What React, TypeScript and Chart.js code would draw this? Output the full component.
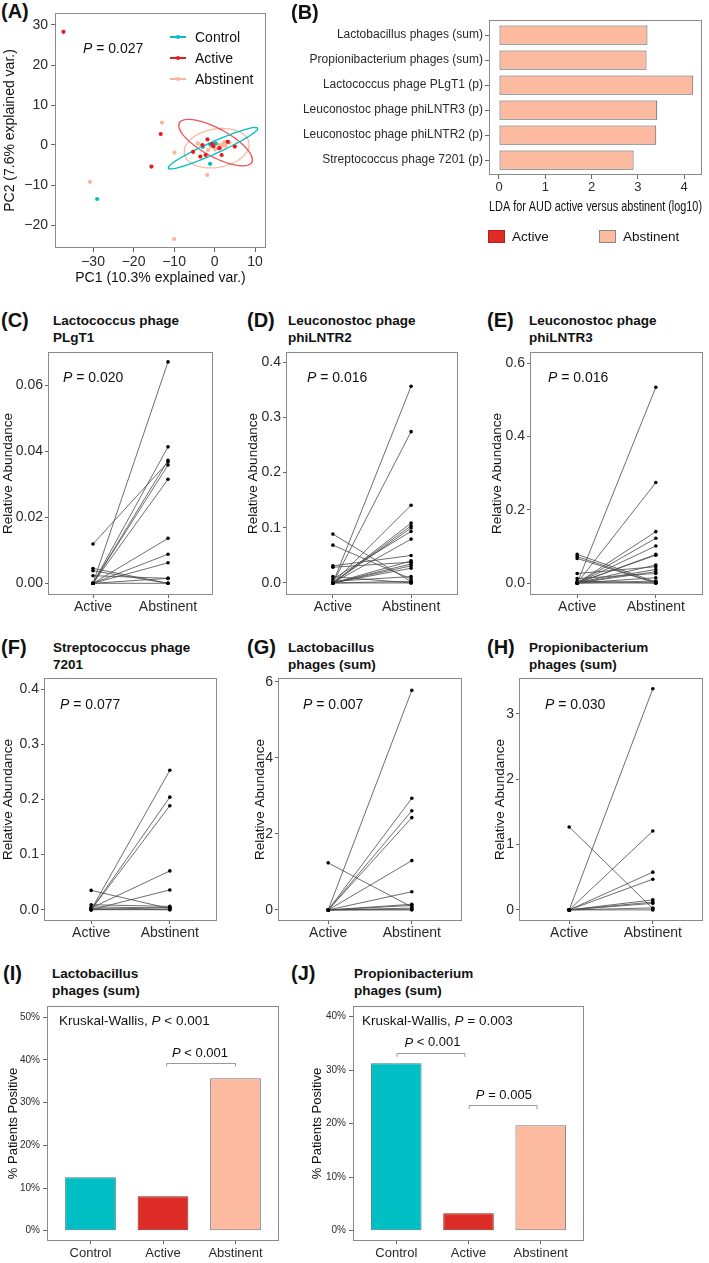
import React, { useEffect, useRef } from 'react';
import { Chart, registerables } from 'chart.js';
Chart.register(...registerables);

const FONT = "'Liberation Sans', Arial, Helvetica, sans-serif";
Chart.defaults.font.family = FONT;

// ---------- Colours ----------
const CONTROL_COLOR = '#00BFC4';
const ACTIVE_COLOR = '#DE2D26';
const ABSTINENT_COLOR = '#FCBBA1';

// ---------- (A) PCA ----------
const controlPC1 = [-29, -1.1, -1.1, -2.9, 3.3, 0.25];
const controlPC2 = [-13.5, -4.7, 0.2, -0.5, 0.8, 0.4];
const activePC1 = [-37.3, -13.3, -15.6, -5.3, -3.5, -2.2, -1.75, -3, -0.6, 1.75, 1.2, 5, 3.25, -0.3];
const activePC2 = [28.3, 2.75, -5.4, -1.7, -2.9, -2.5, 1.4, 0, 0.25, -2.5, -0.8, -0.4, 0.8, -0.3];
const abstinentPC1 = [-30.75, -13, -9.9, -1.8, -10, -4.1, -3.25, 0.5, 1.3, 2.2, 2.75, 1.75, 0.9, -1.6, -0.9, 0.1, 2.6, 3.7];
const abstinentPC2 = [-9.2, 5.6, -1.9, -7.5, -23.5, 0.4, -0.25, 0.25, 0, 0.4, -0.2, -0.4, -0.8, -1.25, -0.4, -1.1, 0.8, 0.6];
// ellipse parameters (centre, semi-axes, rotation in degrees)
const ellipseGroups = ['Control', 'Active', 'Abstinent'];
const ellipseCX = [-0.4, 0.25, 0.5];
const ellipseCY = [-0.8, 0.6, -0.8];
const ellipseA = [12.1, 10.2, 8.1];
const ellipseB = [1.5, 3.5, 4.8];
const ellipseAngle = [24.4, -28.9, 10];
const pcaXTicks = [-30, -20, -10, 0, 10];
const pcaYTicks = [-20, -10, 0, 10, 20, 30];

// ---------- (B) LDA ----------
const ldaLabels = [
  'Lactobacillus phages (sum)',
  'Propionibacterium phages (sum)',
  'Lactococcus phage PLgT1 (p)',
  'Leuconostoc phage phiLNTR3 (p)',
  'Leuconostoc phage phiLNTR2 (p)',
  'Streptococcus phage 7201 (p)',
];
const ldaValues = [3.21, 3.19, 4.2, 3.42, 3.4, 2.91];
const ldaTicks = [0, 1, 2, 3, 4];

// ---------- (C)-(H) paired ----------
const pairedGroups = ['Active', 'Abstinent'];
const plgt1Active = [0, 0, 0.0119, 0, 0, 0, 0, 0, 0, 0.0045, 0.0038, 0.0023, 0, 0];
const plgt1Abstinent = [0.067, 0.0413, 0.0367, 0.0372, 0.0358, 0.0315, 0.0136, 0.0088, 0.0062, 0, 0, 0.0015, 0.0015, 0];
const lntr2Active = [0, 0, 0, 0, 0, 0, 0.0073, 0, 0.031, 0, 0.0285, 0, 0, 0, 0.0885, 0.0685, 0.0115, 0.003, 0, 0];
const lntr2Abstinent = [0.356, 0.274, 0.1406, 0.1085, 0.1036, 0.0994, 0.0933, 0.0794, 0.0497, 0.04, 0.0376, 0.0345, 0.031, 0.0267, 0.0024, 0.0073, 0, 0.0115, 0, 0.003];
const lntr3Active = [0, 0, 0, 0, 0, 0, 0, 0, 0.026, 0, 0, 0.012, 0, 0.078, 0.072, 0.067, 0.0055, 0, 0];
const lntr3Abstinent = [0.534, 0.274, 0.14, 0.122, 0.101, 0.078, 0.076, 0.049, 0.0445, 0.037, 0.031, 0.026, 0.0145, 0.003, 0, 0, 0, 0.0055, 0];
const strepActive = [0, 0, 0, 0.003, 0, 0.035, 0.009, 0.005, 0.002, 0, 0];
const strepAbstinent = [0.2527, 0.204, 0.1885, 0.0703, 0.0358, 0.002, 0.006, 0.003, 0, 0, 0.004];
const lactoActive = [0, 0, 0, 0, 0, 0, 1.24, 0, 0, 0, 0, 0];
const lactoAbstinent = [5.78, 2.94, 2.61, 2.43, 1.3, 0.48, 0.08, 0.15, 0.12, 0.05, 0.02, 0];
const propiActive = [0, 1.27, 0, 0, 0, 0, 0, 0, 0, 0];
const propiAbstinent = [3.386, 0.02, 1.207, 0.578, 0.47, 0.153, 0.12, 0.1, 0.03, 0];

// ---------- (I)-(J) % positive ----------
const cohortLabels = ['Control', 'Active', 'Abstinent'];
const lactoPositive = [12.5, 8.1, 35.7];
const propiPositive = [31.3, 3.25, 19.7];
const pctTicksI = [0, 10, 20, 30, 40, 50];
const pctTicksJ = [0, 10, 20, 30, 40];

// ---------- helpers ----------
type Part = { t: string; i?: boolean };

function drawRich(ctx: CanvasRenderingContext2D, parts: Part[], cx: number, cy: number, size: number) {
  const fontOf = (p: Part) => `${p.i ? 'italic ' : ''}${size}px ${FONT}`;
  let total = 0;
  const widths = parts.map((p) => {
    ctx.font = fontOf(p);
    const w = ctx.measureText(p.t).width;
    total += w;
    return w;
  });
  let x = cx - total / 2;
  ctx.textBaseline = 'middle';
  ctx.textAlign = 'left';
  ctx.fillStyle = '#111';
  parts.forEach((p, k) => {
    ctx.font = fontOf(p);
    ctx.fillText(p.t, x, cy);
    x += widths[k];
  });
}

const boxPlugin = {
  id: 'panelBox',
  afterDatasetsDraw(chart: any) {
    const { ctx, chartArea: a } = chart;
    ctx.save();
    ctx.strokeStyle = '#8a8a8a';
    ctx.lineWidth = 1;
    ctx.strokeRect(Math.round(a.left) + 0.5, Math.round(a.top) + 0.5, Math.round(a.right - a.left) - 1, Math.round(a.bottom - a.top) - 1);
    ctx.restore();
  },
};

const bracketPlugin = {
  id: 'brackets',
  afterDatasetsDraw(chart: any, _args: any, opts: any) {
    const items = (opts && opts.items) || [];
    const { ctx } = chart;
    const xs = chart.scales.x;
    const ys = chart.scales.y;
    ctx.save();
    for (const b of items) {
      const x1 = xs.getPixelForValue(b.x1);
      const x2 = xs.getPixelForValue(b.x2);
      const yt = Math.round(ys.getPixelForValue(b.y)) + 0.5;
      const yb = ys.getPixelForValue(b.y - b.leg);
      ctx.strokeStyle = '#9a9a9a';
      ctx.lineWidth = 1;
      ctx.beginPath();
      ctx.moveTo(x1, yb);
      ctx.lineTo(x1, yt);
      ctx.lineTo(x2, yt);
      ctx.lineTo(x2, yb);
      ctx.stroke();
      drawRich(ctx, b.parts, xs.getPixelForValue(b.lx), ys.getPixelForValue(b.ly), 13);
    }
    ctx.restore();
  },
};

function linAxis(o: any) {
  const horizontal = o.position === 'bottom';
  return {
    type: 'linear',
    position: o.position,
    min: o.min,
    max: o.max,
    offset: false,
    reverse: !!o.reverse,
    afterBuildTicks: (s: any) => {
      s.ticks = o.ticks.map((v: number) => ({ value: v }));
    },
    afterFit: (s: any) => {
      if (horizontal) s.height = o.size;
      else s.width = o.size;
      s.paddingTop = 0;
      s.paddingBottom = 0;
      s.paddingLeft = 0;
      s.paddingRight = 0;
    },
    ticks: {
      callback: o.fmt,
      font: { size: o.fontSize, family: FONT },
      color: '#2a2a2a',
      padding: o.pad,
      autoSkip: false,
      maxRotation: 0,
      minRotation: 0,
    },
    grid: { offset: false, drawOnChartArea: false, drawTicks: true, tickLength: o.tickLen, color: '#666', lineWidth: 1 },
    border: { display: false },
    title: o.title
      ? {
          display: true,
          text: o.title,
          align: o.titleAlign || 'center',
          font: { size: o.titleSize, family: FONT },
          color: '#111',
          padding: horizontal ? { top: 0, bottom: o.titlePad || 0 } : { top: o.titlePad || 0, bottom: 0 },
        }
      : { display: false },
  };
}

function baseOptions(padTop: number, padRight: number) {
  return {
    animation: false,
    responsive: false,
    devicePixelRatio: 1,
    events: [],
    layout: { padding: { top: padTop, right: padRight, left: 0, bottom: 0 } },
    plugins: { legend: { display: false }, tooltip: { enabled: false } },
  };
}

function ellipsePoints(k: number) {
  const pts: { x: number; y: number }[] = [];
  const phi = (ellipseAngle[k] * Math.PI) / 180;
  for (let i = 0; i <= 90; i++) {
    const t = (i / 90) * Math.PI * 2;
    const px = ellipseA[k] * Math.cos(t);
    const py = ellipseB[k] * Math.sin(t);
    pts.push({ x: ellipseCX[k] + px * Math.cos(phi) - py * Math.sin(phi), y: ellipseCY[k] + px * Math.sin(phi) + py * Math.cos(phi) });
  }
  return pts;
}

const minusFmt = (v: number) => (v < 0 ? '\u2212' + Math.abs(v) : String(v));

function buildPCA() {
  const zip = (xs: number[], ys: number[]) => xs.map((x, i) => ({ x, y: ys[i] }));
  const pointDs = (data: any, color: string) => ({
    data,
    showLine: false,
    pointRadius: 2.1,
    pointBackgroundColor: color,
    pointBorderWidth: 0,
    borderColor: color,
  });
  const ellColors = [CONTROL_COLOR, 'rgba(226,60,60,0.85)', 'rgba(250,180,150,0.9)'];
  const ellDs = ellipseGroups.map((_, k) => ({
    data: ellipsePoints(k),
    showLine: true,
    pointRadius: 0,
    borderColor: ellColors[k],
    borderWidth: 1.3,
    tension: 0,
  }));
  return {
    type: 'scatter',
    data: {
      datasets: [
        pointDs(zip(activePC1, activePC2), '#E41A1C'),
        pointDs(zip(controlPC1, controlPC2), CONTROL_COLOR),
        pointDs(zip(abstinentPC1, abstinentPC2), '#F9B49A'),
        ...ellDs,
      ],
    },
    options: {
      ...baseOptions(12, 4),
      scales: {
        x: linAxis({ position: 'bottom', min: -39.4, max: 12.7, ticks: pcaXTicks, fmt: minusFmt, size: 39, fontSize: 14, tickLen: 4, pad: 2, title: 'PC1 (10.3% explained var.)', titleSize: 14 }),
        y: linAxis({ position: 'left', min: -25.75, max: 33, ticks: pcaYTicks, fmt: minusFmt, size: 55, fontSize: 14, tickLen: 4, pad: 3, title: 'PC2 (7.6% explained var.)', titleSize: 14, titlePad: 1.6 }),
      },
    },
    plugins: [boxPlugin],
  };
}

function buildLDA() {
  return {
    type: 'bar',
    data: {
      datasets: [
        {
          data: ldaValues.map((v, i) => ({ x: v, y: i + 1 })),
          backgroundColor: ABSTINENT_COLOR,
          borderColor: '#5a5a5a',
          borderWidth: 1,
          borderSkipped: false,
          barPercentage: 0.77,
          categoryPercentage: 1,
        },
      ],
    },
    options: {
      ...baseOptions(12, 4),
      indexAxis: 'y',
      scales: {
        x: linAxis({ position: 'bottom', min: -0.216, max: 4.389, ticks: ldaTicks, fmt: (v: number) => String(v), size: 41, fontSize: 13, tickLen: 4, pad: 1, title: 'LDA for AUD active versus abstinent (log10)', titleSize: 14, titleAlign: 'end' }),
        y: linAxis({ position: 'left', min: 0.4, max: 6.6, reverse: true, ticks: [1, 2, 3, 4, 5, 6], fmt: (v: number) => ldaLabels[v - 1], size: 189, fontSize: 12, tickLen: 4, pad: 2 }),
      },
    },
    plugins: [boxPlugin],
  };
}

function buildPaired(act: number[], abs: number[], p: any) {
  const datasets = act.map((a, i) => ({
    data: [
      { x: 1, y: a },
      { x: 2, y: abs[i] },
    ],
    showLine: true,
    borderColor: 'rgba(75,75,75,0.9)',
    borderWidth: 0.9,
    pointRadius: 1.8,
    pointBackgroundColor: '#000',
    pointBorderWidth: 0,
    tension: 0,
  }));
  return {
    type: 'scatter',
    data: { datasets },
    options: {
      ...baseOptions(12, 4),
      scales: {
        x: linAxis({ position: 'bottom', min: 0.4, max: 2.6, ticks: [1, 2], fmt: (v: number) => pairedGroups[v - 1], size: 24, fontSize: 14, tickLen: 3, pad: 1 }),
        y: linAxis({ position: 'left', min: p.min, max: p.max, ticks: p.ticks, fmt: (v: number) => v.toFixed(p.dec), size: p.yW, fontSize: 14, tickLen: 3, pad: 2, title: 'Relative Abundance', titleSize: 13.5, titlePad: p.titlePad }),
      },
    },
    plugins: [boxPlugin],
  };
}

function buildPct(values: number[], p: any) {
  return {
    type: 'bar',
    data: {
      datasets: [
        {
          data: values.map((v, i) => ({ x: i + 1, y: v })),
          backgroundColor: [CONTROL_COLOR, ACTIVE_COLOR, ABSTINENT_COLOR],
          borderColor: ['#3f7f80', '#7a2a26', '#7a7a7a'],
          borderWidth: 1,
          borderSkipped: false,
          barPercentage: 0.7,
          categoryPercentage: 1,
        },
      ],
    },
    options: {
      ...baseOptions(12, 4),
      scales: {
        x: linAxis({ position: 'bottom', min: 0.4, max: 3.6, ticks: [1, 2, 3], fmt: (v: number) => cohortLabels[v - 1], size: 22, fontSize: 13, tickLen: 3, pad: 2 }),
        y: linAxis({ position: 'left', min: p.min, max: p.max, ticks: p.ticks, fmt: (v: number) => v + '%', size: p.yW, fontSize: 10, tickLen: 4, pad: 3, title: '% Patients Positive', titleSize: 13, titlePad: 5.2 }),
      },
      plugins: {
        legend: { display: false },
        tooltip: { enabled: false },
        brackets: { items: p.brackets },
      },
    },
    plugins: [boxPlugin, bracketPlugin],
  };
}

// ---------- components ----------
type Rect = { x: number; y: number; w: number; h: number };

function ChartCanvas({ rect, build }: { rect: Rect; build: () => any }) {
  const ref = useRef<HTMLCanvasElement>(null);
  useEffect(() => {
    const chart = new Chart(ref.current as HTMLCanvasElement, build());
    return () => chart.destroy();
  }, []);
  return (
    <canvas
      ref={ref}
      width={rect.w}
      height={rect.h}
      style={{ position: 'absolute', left: rect.x, top: rect.y, width: rect.w, height: rect.h }}
    />
  );
}

function Txt({ x, y, size = 14, bold = false, align = 'left', color = '#111', children }: any) {
  const lh = Math.round(size * 1.2);
  return (
    <div
      style={{
        position: 'absolute',
        left: x,
        top: y - lh / 2,
        fontSize: size,
        lineHeight: lh + 'px',
        fontWeight: bold ? 700 : 400,
        fontFamily: FONT,
        whiteSpace: 'nowrap',
        color,
        transform: align === 'center' ? 'translateX(-50%)' : undefined,
      }}
    >
      {children}
    </div>
  );
}

function PText({ x, y, op, val, size = 14 }: any) {
  return (
    <Txt x={x} y={y} size={size}>
      <i>P</i> {op} {val}
    </Txt>
  );
}

function PanelHead({ letter, lx, ly, tx, lines }: any) {
  return (
    <>
      <Txt x={lx} y={ly} size={20} bold>
        {letter}
      </Txt>
      <Txt x={tx} y={ly + 1} size={13.5} bold>
        {lines[0]}
      </Txt>
      <Txt x={tx} y={ly + 18} size={13.5} bold>
        {lines[1]}
      </Txt>
    </>
  );
}

function LegendKey({ y, color, label }: any) {
  return (
    <>
      <div style={{ position: 'absolute', left: 170, top: y - 0.75, width: 16, height: 1.5, background: color }} />
      <div style={{ position: 'absolute', left: 176, top: y - 2, width: 4, height: 4, borderRadius: 2, background: color }} />
      <Txt x={195} y={y} size={14}>
        {label}
      </Txt>
    </>
  );
}

export default function App() {
  const paired = [
    { rect: { x: 0, y: 340, w: 217, h: 279 }, act: plgt1Active, abs: plgt1Abstinent, p: { min: -0.00354, max: 0.07, ticks: [0, 0.02, 0.04, 0.06], dec: 2, yW: 48, titlePad: 0 } },
    { rect: { x: 243, y: 340, w: 219, h: 279 }, act: lntr2Active, abs: lntr2Abstinent, p: { min: -0.0218, max: 0.4182, ticks: [0, 0.1, 0.2, 0.3, 0.4], dec: 1, yW: 43, titlePad: 1.9 } },
    { rect: { x: 487, y: 340, w: 220, h: 279 }, act: lntr3Active, abs: lntr3Abstinent, p: { min: -0.0327, max: 0.63, ticks: [0, 0.2, 0.4, 0.6], dec: 1, yW: 43, titlePad: 1.9 } },
    { rect: { x: 0, y: 666, w: 221, h: 279 }, act: strepActive, abs: strepAbstinent, p: { min: -0.0205, max: 0.42, ticks: [0, 0.1, 0.2, 0.3, 0.4], dec: 1, yW: 44, titlePad: 0 } },
    { rect: { x: 250, y: 666, w: 216, h: 279 }, act: lactoActive, abs: lactoAbstinent, p: { min: -0.29, max: 6.105, ticks: [0, 2, 4, 6], dec: 0, yW: 28, titlePad: 1.9 } },
    { rect: { x: 490, y: 666, w: 217, h: 279 }, act: propiActive, abs: propiAbstinent, p: { min: -0.17, max: 3.55, ticks: [0, 1, 2, 3], dec: 0, yW: 29, titlePad: 1.9 } },
  ];

  const bracketsI = [{ x1: 2.05, x2: 3.0, y: 39.3, leg: 0.8, lx: 2.51, ly: 41.6, parts: [{ t: 'P', i: true }, { t: ' < 0.001' }] }];
  const bracketsJ = [
    { x1: 1.01, x2: 1.95, y: 33.3, leg: 0.8, lx: 1.5, ly: 35.1, parts: [{ t: 'P', i: true }, { t: ' < 0.001' }] },
    { x1: 2.01, x2: 2.95, y: 23.5, leg: 0.8, lx: 2.49, ly: 25.3, parts: [{ t: 'P', i: true }, { t: ' = 0.005' }] },
  ];

  return (
    <div style={{ position: 'absolute', left: 0, top: 0, width: 709, height: 1263, background: '#fff', overflow: 'hidden', fontFamily: FONT }}>
      {/* (A) */}
      <Txt x={1} y={11} size={20} bold>
        (A)
      </Txt>
      <ChartCanvas rect={{ x: 0, y: 1, w: 270, h: 286 }} build={buildPCA} />
      <PText x={83} y={48} op="=" val="0.027" />
      <LegendKey y={37} color={CONTROL_COLOR} label="Control" />
      <LegendKey y={58} color="#E41A1C" label="Active" />
      <LegendKey y={79} color="#F9B49A" label="Abstinent" />

      {/* (B) */}
      <Txt x={291} y={12} size={20} bold>
        (B)
      </Txt>
      <ChartCanvas rect={{ x: 300, y: 8, w: 406, h: 208 }} build={buildLDA} />
      <div style={{ position: 'absolute', left: 488, top: 230, width: 17, height: 13, background: ACTIVE_COLOR, border: '1px solid #b02020', boxSizing: 'border-box' }} />
      <Txt x={512} y={237} size={13.5}>
        Active
      </Txt>
      <div style={{ position: 'absolute', left: 599, top: 230, width: 17, height: 13, background: ABSTINENT_COLOR, border: '1px solid #888', boxSizing: 'border-box' }} />
      <Txt x={623} y={237} size={13.5}>
        Abstinent
      </Txt>

      {/* (C)-(E) */}
      <PanelHead letter="(C)" lx={1} ly={320} tx={53} lines={['Lactococcus phage', 'PLgT1']} />
      <PanelHead letter="(D)" lx={247} ly={320} tx={288} lines={['Leuconostoc phage', 'phiLNTR2']} />
      <PanelHead letter="(E)" lx={487} ly={320} tx={529} lines={['Leuconostoc phage', 'phiLNTR3']} />
      {/* (F)-(H) */}
      <PanelHead letter="(F)" lx={1} ly={647} tx={53} lines={['Streptococcus phage', '7201']} />
      <PanelHead letter="(G)" lx={247} ly={647} tx={288} lines={['Lactobacillus', 'phages (sum)']} />
      <PanelHead letter="(H)" lx={487} ly={647} tx={529} lines={['Propionibacterium', 'phages (sum)']} />

      {paired.map((d, i) => (
        <ChartCanvas key={i} rect={d.rect} build={() => buildPaired(d.act, d.abs, d.p)} />
      ))}
      <PText x={63} y={377} op="=" val="0.020" />
      <PText x={307} y={377} op="=" val="0.016" />
      <PText x={548} y={377} op="=" val="0.016" />
      <PText x={60} y={704} op="=" val="0.077" />
      <PText x={303} y={704} op="=" val="0.007" />
      <PText x={545} y={704} op="=" val="0.030" />

      {/* (I)-(J) */}
      <PanelHead letter="(I)" lx={3} ly={973} tx={52} lines={['Lactobacillus', 'phages (sum)']} />
      <PanelHead letter="(J)" lx={291} ly={973} tx={354} lines={['Propionibacterium', 'phages (sum)']} />
      <ChartCanvas rect={{ x: 0, y: 994, w: 283, h: 269 }} build={() => buildPct(lactoPositive, { min: -2.4, max: 52.6, ticks: pctTicksI, yW: 47, brackets: bracketsI })} />
      <ChartCanvas rect={{ x: 304, y: 994, w: 284, h: 269 }} build={() => buildPct(propiPositive, { min: -1.93, max: 42.0, ticks: pctTicksJ, yW: 49, brackets: bracketsJ })} />
      <Txt x={59} y={1021} size={13.5}>
        Kruskal-Wallis, <i>P</i> &lt; 0.001
      </Txt>
      <Txt x={362} y={1021} size={13.5}>
        Kruskal-Wallis, <i>P</i> = 0.003
      </Txt>
    </div>
  );
}
